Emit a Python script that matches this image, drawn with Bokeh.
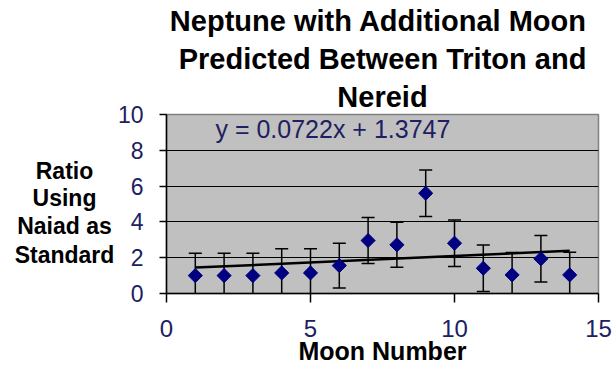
import numpy as np
from bokeh.plotting import figure
from bokeh.layouts import row
from bokeh.core.properties import value
from bokeh.models import ColumnDataSource, FixedTicker, Label, Title
from bokeh.embed import file_html
from bokeh.resources import INLINE

# Ratio of each moon's value to Naiad's, with its uncertainty
moon_number = [1, 2, 3, 4, 5, 6, 7, 8, 9, 10, 11, 12, 13, 14]
ratio = [1.0, 1.0, 1.0, 1.15, 1.15, 1.56, 2.96, 2.72, 5.6, 2.81, 1.41, 1.04, 1.94, 1.04]
ratio_error = [1.25, 1.25, 1.25, 1.35, 1.35, 1.25, 1.28, 1.26, 1.3, 1.3, 1.3, 1.25, 1.3, 1.26]

# Linear trendline
slope = 0.0722
intercept = 1.3747

x_ticks = [0, 5, 10, 15]
y_ticks = [0, 2, 4, 6, 8, 10]
grid_ticks = [2, 4, 6, 8]

title_lines = ["Neptune with Additional  Moon", "Predicted Between Triton and", "Nereid"]
y_label_lines = ["Ratio", "Using", "Naiad as", "Standard"]
x_label = "Moon Number"

FONT = "Liberation Sans"
TICK_COLOR = "#202060"
TOTAL_W, TOTAL_H = 612, 368
FRAME_LEFT, FRAME_RIGHT, FRAME_TOP, FRAME_BOTTOM = 163, 598, 114, 293
CAPTION_W = 114

# ---- left strip holding the horizontal y-axis caption ----
# its frame shares the main chart's vertical extent; the y range is given in
# pixel rows so the caption lines can be set like type
cap = figure(
    width=CAPTION_W, height=TOTAL_H,
    x_range=(0, CAPTION_W), y_range=(FRAME_BOTTOM, FRAME_TOP),
    output_backend="svg", toolbar_location=None,
    min_border_left=0, min_border_right=0,
    min_border_top=FRAME_TOP, min_border_bottom=TOTAL_H - FRAME_BOTTOM,
)
cap.axis.visible = False
cap.grid.visible = False
cap.outline_line_color = None
cap.background_fill_color = "white"
cap.border_fill_color = "white"
cap_src = ColumnDataSource(dict(
    x=[64] * len(y_label_lines),
    y=[170, 197, 225, 254.5],
    text=y_label_lines,
))
cap.text(x="x", y="y", text="text", source=cap_src,
         text_align="center", text_baseline="alphabetic",
         text_font=value(FONT), text_font_size="23px", text_font_style="bold",
         text_color="black")

# ---- main chart ----
p = figure(
    width=TOTAL_W - CAPTION_W, height=TOTAL_H,
    x_range=(0, 15), y_range=(0, 10),
    output_backend="svg", toolbar_location=None,
    min_border_left=FRAME_LEFT - CAPTION_W, min_border_right=TOTAL_W - FRAME_RIGHT,
    min_border_top=FRAME_TOP, min_border_bottom=TOTAL_H - FRAME_BOTTOM,
)
p.background_fill_color = "#C0C0C0"
p.border_fill_color = "white"
p.outline_line_color = "#808080"
p.outline_line_width = 1.5

# three centred title lines; later-added titles sit further from the frame,
# the figure's own title is outermost
def style_title(t, standoff):
    t.align = "center"
    t.text_font = FONT
    t.text_font_size = "29px"
    t.text_font_style = "bold"
    t.text_color = "black"
    t.standoff = standoff

p.title.text = title_lines[0]
style_title(p.title, 4)
for line in (title_lines[2], title_lines[1]):
    t = Title(text=line)
    style_title(t, 4)
    p.add_layout(t, "above")

# axes
p.xaxis.ticker = FixedTicker(ticks=x_ticks)
p.yaxis.ticker = FixedTicker(ticks=y_ticks)
for ax in (p.xaxis, p.yaxis):
    ax.axis_line_color = "black"
    ax.axis_line_width = 1.5
    ax.major_tick_line_color = "black"
    ax.major_tick_line_width = 1.5
    ax.major_tick_in = 0
    ax.minor_tick_line_color = None
    ax.major_label_text_font = FONT
    ax.major_label_text_color = TICK_COLOR
p.xaxis.major_label_text_font_size = "24px"
p.yaxis.major_label_text_font_size = "23px"
p.xaxis.major_tick_out = 9
p.xaxis.major_label_standoff = 17
p.yaxis.major_tick_out = 7
p.yaxis.major_label_standoff = 16

p.xaxis.axis_label = x_label
p.xaxis.axis_label_text_font = FONT
p.xaxis.axis_label_text_font_size = "25px"
p.xaxis.axis_label_text_font_style = "bold"
p.xaxis.axis_label_text_color = "black"
p.xaxis.axis_label_standoff = -3

p.xgrid.grid_line_color = None
p.ygrid.ticker = FixedTicker(ticks=grid_ticks)
p.ygrid.grid_line_color = "black"
p.ygrid.grid_line_width = 1.2

ratio_arr = np.array(ratio)
err_arr = np.array(ratio_error)
src = ColumnDataSource(dict(
    x=moon_number,
    y=ratio,
    upper=ratio_arr + err_arr,
    lower=ratio_arr - err_arr,
))

# error bars with caps
p.segment(x0="x", y0="lower", x1="x", y1="upper", source=src,
          line_color="black", line_width=1.5)
p.scatter(x="x", y="upper", source=src, marker="dash", size=13,
          line_color="black", line_width=1.5)
p.scatter(x="x", y="lower", source=src, marker="dash", size=13,
          line_color="black", line_width=1.5)

# trendline over the span of the data
trend_x = np.array([min(moon_number), max(moon_number)])
trend_y = slope * trend_x + intercept
p.line(trend_x, trend_y, line_color="black", line_width=2.5)

# data markers (diamonds)
p.scatter(x="x", y="y", source=src, marker="square", angle=np.pi / 4, size=10,
          fill_color="#000080", line_color="#000080")

p.add_layout(Label(
    x=1.7, y=9.2, text=f"y = {slope}x + {intercept}",
    text_baseline="middle", text_font=FONT, text_font_size="25px",
    text_color=TICK_COLOR,
))

layout = row(cap, p, spacing=0)
open("out.html", "w").write(file_html(layout, INLINE))
